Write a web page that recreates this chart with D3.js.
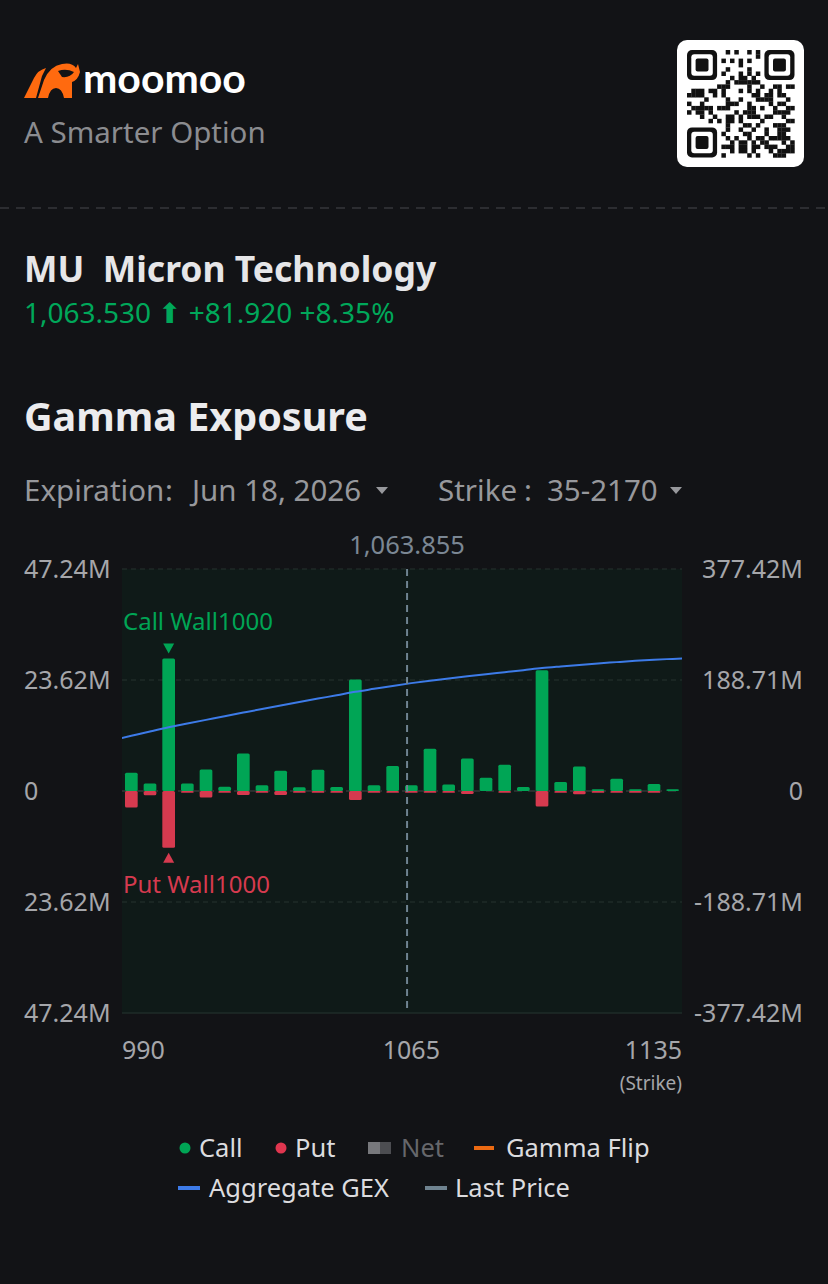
<!DOCTYPE html>
<html>
<head>
<meta charset="utf-8">
<script src="https://cdn.jsdelivr.net/npm/d3@7/dist/d3.min.js"></script>
<style>
  html, body { margin: 0; padding: 0; background: #121316; }
  svg { display: block; }
  text { font-family: "Noto Sans", "Open Sans", sans-serif; white-space: pre; }
</style>
</head>
<body>
<svg id="page" width="828" height="1284"></svg>
<script>
// strikes on the x axis
const strikes = [990, 995, 1000, 1005, 1010, 1015, 1020, 1025, 1030, 1035,
                 1040, 1045, 1050, 1055, 1060, 1065, 1070, 1075, 1080, 1085,
                 1090, 1095, 1100, 1105, 1110, 1115, 1120, 1125, 1130, 1135];
// call gamma exposure (M), plotted up
const callGex = [3.9, 1.6, 28.2, 1.6, 4.6, 0.9, 8.0, 1.2, 4.3, 0.8,
                 4.5, 0.85, 23.7, 1.2, 5.3, 1.2, 9.0, 1.4, 6.9, 2.8,
                 5.6, 0.85, 25.7, 1.9, 5.2, 0.35, 2.6, 0.35, 1.5, 0.35];
// put gamma exposure (M, absolute), plotted down
const putGex = [3.5, 0.9, 12.1, 0.35, 1.4, 0.35, 0.85, 0.35, 0.85, 0.35,
                0.35, 0.35, 1.9, 0.35, 0.35, 0.35, 0.35, 0.35, 0.64, 0,
                0.35, 0, 3.3, 0.35, 0.7, 0.35, 0.35, 0.35, 0.35, 0];
// aggregate GEX line (M, right axis)
const gexStrikes = [985, 990, 995, 1000, 1005, 1010, 1015, 1020, 1025, 1030, 1035,
                    1040, 1045, 1050, 1055, 1060, 1065, 1070, 1075, 1080, 1085,
                    1090, 1095, 1100, 1105, 1110, 1115, 1120, 1125, 1130, 1135, 1140];
const aggGex = [86.4, 93.8, 101.2, 108.3, 114.6, 120.9, 127.2, 133.3, 139.4, 145.4, 151.3,
                157.1, 162.7, 168.6, 173.7, 178.7, 183.4, 187.5, 191.2, 195.0, 198.6,
                202.0, 205.4, 209.0, 211.8, 214.4, 216.8, 219.1, 221.3, 223.2, 224.6, 225.8];
const leftTicks = [47.24, 23.62, 0, -23.62, -47.24];
const leftTickLabels = ["47.24M", "23.62M", "0", "23.62M", "47.24M"];
const rightTicks = [377.42, 188.71, 0, -188.71, -377.42];
const rightTickLabels = ["377.42M", "188.71M", "0", "-188.71M", "-377.42M"];
const xTickValues = [990, 1065, 1135];
const lastPrice = 1063.855;
const callWall = 1000;
const putWall = 1000;

const svg = d3.select("#page");

// ---- header ----
// bull logo (rough shape)
const logo = svg.append("g").attr("transform", "translate(24,62)");
logo.append("path")
  .attr("d", "M0,36 L10,16 Q14,8 22,6 L18,14 L12,36 Z")
  .attr("fill", "#ff6a0f");
logo.append("path")
  .attr("d", "M14,36 L20,18 Q26,4 38,2 Q48,0 52,6 L54,2 L56,10 Q54,18 48,20 L48,36 L40,36 Q38,26 32,26 Q26,26 24,36 Z")
  .attr("fill", "#ff6a0f");
logo.append("path")
  .attr("d", "M34,9 Q42,6 50,10 Q46,16 38,15 Z")
  .attr("fill", "#121316");
svg.append("text").attr("x", 83).attr("y", 93)
  .attr("fill", "#ffffff").attr("font-size", 41).attr("font-weight", 700)
  .style("font-family", "Lato, 'Noto Sans', sans-serif")
  .text("moomoo");
svg.append("text").attr("x", 24).attr("y", 143)
  .attr("fill", "#8b8c90").attr("font-size", 29.5)
  .text("A Smarter Option");

// QR code look-alike
const qr = svg.append("g").attr("transform", "translate(677,40)");
qr.append("rect").attr("width", 127).attr("height", 127).attr("rx", 10).attr("fill", "#ffffff");
const mod = 4.3, n = 25, off = 10;
const inFinder = (r, c) => (r < 8 && c < 8) || (r < 8 && c >= n - 8) || (r >= n - 8 && c < 8);
d3.range(n * n).forEach(k => {
  const r = Math.floor(k / n), c = k % n;
  if (inFinder(r, c)) return;
  const h = ((r * 73856093) ^ (c * 19349663) ^ (r * c * 83492791)) >>> 0;
  if (h % 7 < 3) {
    qr.append("rect").attr("x", off + c * mod).attr("y", off + r * mod)
      .attr("width", mod + 0.2).attr("height", mod + 0.2).attr("fill", "#111");
  }
});
[[0, 0], [0, n - 7], [n - 7, 0]].forEach(([r, c]) => {
  const gx = off + c * mod, gy = off + r * mod;
  qr.append("rect").attr("x", gx).attr("y", gy).attr("width", 7 * mod).attr("height", 7 * mod).attr("rx", 5).attr("fill", "#111");
  qr.append("rect").attr("x", gx + mod).attr("y", gy + mod).attr("width", 5 * mod).attr("height", 5 * mod).attr("rx", 3).attr("fill", "#fff");
  qr.append("rect").attr("x", gx + 2 * mod).attr("y", gy + 2 * mod).attr("width", 3 * mod).attr("height", 3 * mod).attr("rx", 2).attr("fill", "#111");
});

svg.append("line").attr("x1", 0).attr("x2", 828).attr("y1", 208).attr("y2", 208)
  .attr("stroke", "#36373b").attr("stroke-width", 1.5).attr("stroke-dasharray", "9,7");

svg.append("text").attr("x", 24).attr("y", 282)
  .attr("fill", "#e6e6e8").attr("font-size", 35.5).attr("font-weight", 700)
  .text("MU  Micron Technology");
svg.append("text").attr("x", 24).attr("y", 323)
  .attr("fill", "#00a85a").attr("font-size", 28)
  .text("1,063.530 \u2B06 +81.920 +8.35%");

svg.append("text").attr("x", 24).attr("y", 431)
  .attr("fill", "#ececee").attr("font-size", 39.5).attr("font-weight", 700)
  .text("Gamma Exposure");
const sub = svg.append("g").attr("fill", "#97989c").attr("font-size", 29.5);
sub.append("text").attr("x", 24).attr("y", 501).text("Expiration");
sub.append("text").attr("x", 165).attr("y", 501).text(":");
sub.append("text").attr("x", 192).attr("y", 501).text("Jun 18, 2026");
sub.append("path").attr("d", "M376,487 L388,487 L382,494 Z");
sub.append("text").attr("x", 438).attr("y", 501).text("Strike");
sub.append("text").attr("x", 524).attr("y", 501).text(":");
sub.append("text").attr("x", 547).attr("y", 501).text("35-2170");
sub.append("path").attr("d", "M670,487 L682,487 L676,494 Z");

// ---- chart ----
const plot = { left: 122, right: 682, top: 569, bottom: 1013 };

const x = d3.scaleBand().domain(strikes)
  .range([plot.left, plot.right]).paddingInner(0.32).paddingOuter(0.16);
const xs = d3.scaleLinear().domain([987.5, 1137.5]).range([plot.left, plot.right]);
const yL = d3.scaleLinear().domain([-47.24, 47.24]).range([plot.bottom, plot.top]);
const yR = d3.scaleLinear().domain([-377.42, 377.42]).range([plot.bottom, plot.top]);

svg.append("rect").attr("x", plot.left).attr("y", plot.top)
  .attr("width", plot.right - plot.left).attr("height", plot.bottom - plot.top)
  .attr("fill", "#0f1a18");
svg.append("defs").append("clipPath").attr("id", "clip")
  .append("rect").attr("x", plot.left).attr("y", plot.top)
  .attr("width", plot.right - plot.left).attr("height", plot.bottom - plot.top);

// grid
svg.append("g").selectAll("line").data(leftTicks.filter(d => d !== -47.24)).join("line")
  .attr("x1", plot.left).attr("x2", plot.right)
  .attr("y1", d => yL(d)).attr("y2", d => yL(d))
  .attr("stroke", d => d === 0 ? "#2a2f2e" : "#27332f")
  .attr("stroke-width", d => d === 0 ? 2 : 1)
  .attr("stroke-dasharray", d => d === 0 ? "8,6" : "5,4");
svg.append("line").attr("x1", plot.left).attr("x2", plot.right)
  .attr("y1", plot.bottom).attr("y2", plot.bottom)
  .attr("stroke", "#1f2c29").attr("stroke-width", 1.5);

// axes
const tickFont = 25;
const leftAxis = svg.append("g").attr("transform", `translate(${plot.left},0)`)
  .call(d3.axisLeft(yL).tickValues(leftTicks).tickSize(0)
    .tickFormat((d, i) => leftTickLabels[i]));
leftAxis.select(".domain").remove();
leftAxis.selectAll("text").attr("x", 24 - plot.left).attr("text-anchor", "start")
  .attr("fill", "#a5a6aa").attr("font-size", tickFont).attr("font-family", null);

const rightAxis = svg.append("g").attr("transform", `translate(${plot.right},0)`)
  .call(d3.axisRight(yR).tickValues(rightTicks).tickSize(0)
    .tickFormat((d, i) => rightTickLabels[i]));
rightAxis.select(".domain").remove();
rightAxis.selectAll("text").attr("x", 803 - plot.right).attr("text-anchor", "end")
  .attr("fill", "#a5a6aa").attr("font-size", tickFont).attr("font-family", null);

const bottomAxis = svg.append("g").attr("transform", `translate(0,${plot.bottom})`)
  .call(d3.axisBottom(x).tickValues(xTickValues).tickSize(0));
bottomAxis.select(".domain").remove();
bottomAxis.selectAll("text")
  .attr("y", 46).attr("dy", 0)
  .attr("fill", "#a5a6aa").attr("font-size", tickFont).attr("font-family", null)
  .attr("text-anchor", (d, i) => i === 0 ? "start" : i === xTickValues.length - 1 ? "end" : "middle")
  .attr("dx", (d, i) => {
    const c = x(d) + x.bandwidth() / 2;
    if (i === 0) return plot.left - c;
    if (i === xTickValues.length - 1) return plot.right - c;
    return 0;
  });
svg.append("text").attr("x", plot.right).attr("y", 1090).attr("text-anchor", "end")
  .attr("fill", "#a5a6aa").attr("font-size", 19).text("(Strike)");

// bars
const bars = svg.append("g");
const bw = x.bandwidth();
bars.selectAll(".put").data(strikes).join("rect").attr("class", "put")
  .attr("x", d => x(d)).attr("width", bw)
  .attr("y", yL(0))
  .attr("height", (d, i) => putGex[i] > 0 ? Math.max(1.8, yL(-putGex[i]) - yL(0)) : 0)
  .attr("rx", 1.5).attr("fill", "#d63a4f");
bars.selectAll(".call").data(strikes).join("rect").attr("class", "call")
  .attr("x", d => x(d)).attr("width", bw)
  .attr("y", (d, i) => yL(callGex[i]))
  .attr("height", (d, i) => yL(0) - yL(callGex[i]))
  .attr("rx", 1.5).attr("fill", "#00a555");

// aggregate GEX line
svg.append("path").datum(gexStrikes)
  .attr("clip-path", "url(#clip)")
  .attr("fill", "none").attr("stroke", "#3d7be8").attr("stroke-width", 2)
  .attr("d", d3.line().x(d => xs(d)).y((d, i) => yR(aggGex[i])).curve(d3.curveMonotoneX));

// last price
svg.append("line").attr("x1", xs(lastPrice)).attr("x2", xs(lastPrice))
  .attr("y1", plot.top).attr("y2", plot.bottom)
  .attr("stroke", "#6f8390").attr("stroke-width", 2).attr("stroke-dasharray", "7,5");
svg.append("text").attr("x", xs(lastPrice)).attr("y", 554).attr("text-anchor", "middle")
  .attr("fill", "#7b8794").attr("font-size", 25.5)
  .text(d3.format(",.3f")(lastPrice));

// walls
const cwi = strikes.indexOf(callWall), pwi = strikes.indexOf(putWall);
const cwx = x(callWall) + bw / 2, pwx = x(putWall) + bw / 2;
const cwTop = yL(callGex[cwi]), pwBot = yL(-putGex[pwi]);
svg.append("path").attr("d", `M${cwx - 5.5},${cwTop - 15} L${cwx + 5.5},${cwTop - 15} L${cwx},${cwTop - 5} Z`)
  .attr("fill", "#00a555");
svg.append("text").attr("x", 123).attr("y", cwTop - 28)
  .attr("fill", "#00a555").attr("font-size", 24).text("Call Wall" + callWall);
svg.append("path").attr("d", `M${pwx - 5.5},${pwBot + 15} L${pwx + 5.5},${pwBot + 15} L${pwx},${pwBot + 5} Z`)
  .attr("fill", "#d63a4f");
svg.append("text").attr("x", 123).attr("y", pwBot + 45)
  .attr("fill", "#d63a4f").attr("font-size", 24).text("Put Wall" + putWall);

// legend
const lg = svg.append("g").attr("font-size", 25.5);
const row1 = 1157, row2 = 1197;
lg.append("circle").attr("cx", 185).attr("cy", row1 - 9).attr("r", 5.5).attr("fill", "#00a555");
lg.append("text").attr("x", 199).attr("y", row1).attr("fill", "#dcdcdf").text("Call");
lg.append("circle").attr("cx", 281).attr("cy", row1 - 9).attr("r", 5.5).attr("fill", "#e0364f");
lg.append("text").attr("x", 295).attr("y", row1).attr("fill", "#dcdcdf").text("Put");
lg.append("rect").attr("x", 368).attr("y", row1 - 15).attr("width", 12).attr("height", 12).attr("fill", "#77787c");
lg.append("rect").attr("x", 380).attr("y", row1 - 15).attr("width", 11).attr("height", 12).attr("fill", "#4c4d51");
lg.append("text").attr("x", 401).attr("y", row1).attr("fill", "#66676b").text("Net");
lg.append("rect").attr("x", 474).attr("y", row1 - 11).attr("width", 20).attr("height", 4).attr("fill", "#ec6a12");
lg.append("text").attr("x", 506).attr("y", row1).attr("fill", "#dcdcdf").text("Gamma Flip");
lg.append("rect").attr("x", 178).attr("y", row2 - 11).attr("width", 22).attr("height", 4).attr("fill", "#3d7be8");
lg.append("text").attr("x", 209).attr("y", row2).attr("fill", "#dcdcdf").text("Aggregate GEX");
lg.append("rect").attr("x", 425).attr("y", row2 - 11).attr("width", 22).attr("height", 4).attr("fill", "#6f8390");
lg.append("text").attr("x", 455).attr("y", row2).attr("fill", "#dcdcdf").text("Last Price");
</script>
</body>
</html>
